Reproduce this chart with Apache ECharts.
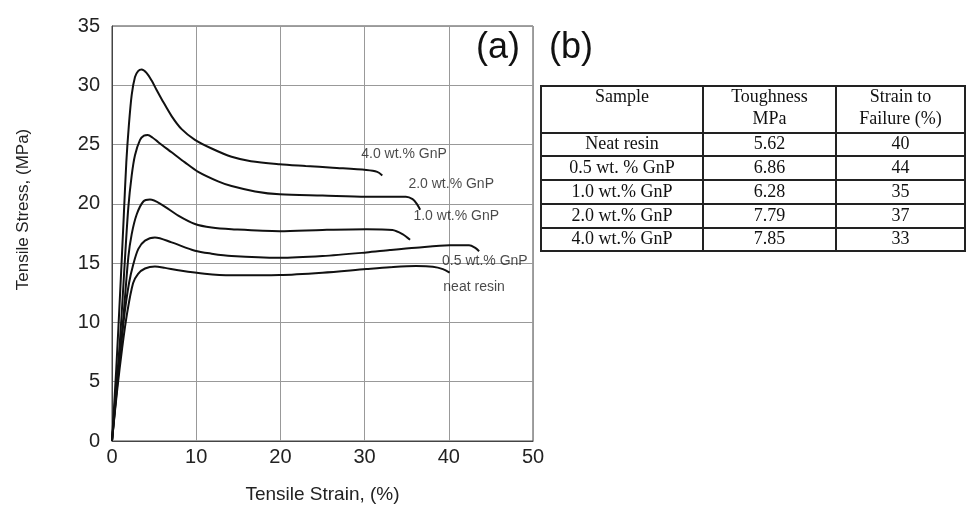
<!DOCTYPE html>
<html>
<head>
<meta charset="utf-8">
<script src="https://cdn.jsdelivr.net/npm/echarts@6/dist/echarts.min.js"></script>
<style>
html,body{margin:0;padding:0;background:#fff;}
#c{width:966px;height:509px;}
</style>
</head>
<body>
<div id="c"></div>
<script>
// ---- data (strain %, stress MPa) ----
const neatResin = [[0,0],[0.6,4.2],[1.2,7.8],[1.8,10.8],[2.5,13.3],[3.1,14.1],[3.92,14.55],[5.1,14.72],[6.3,14.6],[7.87,14.4],[11.0,14.1],[14.2,13.97],[19.9,14.0],[25,14.2],[30.2,14.5],[33,14.65],[36.1,14.75],[38.1,14.7],[39.3,14.5],[40.1,14.2]];
const gnp05 = [[0,0],[0.5,3.8],[1.0,7.5],[1.5,10.8],[2.02,13.3],[2.53,14.9],[3.13,16.2],[3.92,16.9],[5.1,17.17],[7.08,16.75],[9.85,16.05],[11.83,15.8],[14.2,15.6],[19.9,15.45],[25,15.6],[30.2,15.9],[33,16.1],[36.1,16.3],[40.1,16.5],[42.4,16.5],[43.1,16.3],[43.6,16.0]];
const gnp10 = [[0,0],[0.6,4.8],[1.3,10],[1.94,15.5],[2.34,17.45],[2.93,19.1],[3.72,20.2],[4.51,20.36],[5.9,19.94],[7.87,19.0],[9.85,18.3],[11.83,18.0],[14.2,17.86],[19.9,17.7],[25,17.8],[30.2,17.86],[33.3,17.8],[34.5,17.45],[35.4,16.97]];
const gnp20 = [[0,0],[0.5,4.5],[0.9,8],[1.3,12.5],[1.55,15.5],[1.94,19.7],[2.34,22.4],[2.73,24.1],[3.33,25.4],[3.8,25.75],[4.24,25.8],[4.8,25.6],[5.5,25.2],[7.08,24.35],[8.66,23.5],[10.24,22.7],[12.6,21.9],[14.2,21.5],[17,21.05],[19.9,20.8],[25,20.7],[30.2,20.6],[34.9,20.6],[35.7,20.4],[36.2,20.0],[36.6,19.5]];
const gnp40 = [[0,0],[0.5,6],[1.0,13],[1.4,19],[1.7,23.5],[2.0,26.6],[2.34,29.2],[2.73,30.7],[3.1,31.2],[3.52,31.33],[4.1,31.05],[4.71,30.4],[5.3,29.6],[5.9,28.83],[7.08,27.4],[8.27,26.3],[9.85,25.4],[11.83,24.67],[14.2,23.97],[16.5,23.6],[19.9,23.35],[23,23.2],[26.2,23.05],[30.2,22.86],[31.5,22.7],[32.1,22.4]];

const curveNames = ['neat resin','0.5 wt.% GnP','1.0 wt.% GnP','2.0 wt.% GnP','4.0 wt.% GnP'];
const curveLabelAnchors = [[39.35,12.98],[39.2,15.17],[35.8,18.94],[35.2,21.67],[29.6,24.17]];

const xTicks = [0,10,20,30,40,50];
const yTicks = [0,5,10,15,20,25,30,35];

// table (b)
const tableHeaders = [['Sample'],['Toughness','MPa'],['Strain to','Failure (%)']];
const samples = ['Neat resin','0.5 wt. % GnP','1.0 wt.% GnP','2.0 wt.% GnP','4.0 wt.% GnP'];
const toughness = ['5.62','6.86','6.28','7.79','7.85'];
const strainToFailure = ['40','44','35','37','33'];

// ---- chart ----
const chart = echarts.init(document.getElementById('c'));
const curves = [neatResin,gnp05,gnp10,gnp20,gnp40];
const sansFont = 'Liberation Sans, Arial, sans-serif';
const serifFont = 'Liberation Serif, Times New Roman, serif';

const series = curves.map((d,i)=>({
  name: curveNames[i], type:'line', data:d, smooth:0.3, showSymbol:false, symbol:'none',
  lineStyle:{color:'#111',width:2}, silent:true, z:3
}));
series.push({
  type:'scatter', symbolSize:0, silent:true, z:4,
  data: curveLabelAnchors.map((p,i)=>({value:p, name:curveNames[i]})),
  label:{show:true, position:'right', distance:0, formatter:p=>p.name,
         fontFamily:sansFont, fontSize:14, color:'#1a1a1a'}
});

// table graphics
const colX = [541,703,836,965];
const rowY = [86,133,156,180,204,228,251];
const g = [];
g.push({type:'rect', shape:{x:colX[0],y:rowY[0],width:colX[3]-colX[0],height:rowY[6]-rowY[0]},
        style:{fill:'none',stroke:'#222',lineWidth:2}});
for (let i=1;i<rowY.length-1;i++) g.push({type:'line',shape:{x1:colX[0],y1:rowY[i],x2:colX[3],y2:rowY[i]},style:{stroke:'#222',lineWidth:2}});
for (let j=1;j<colX.length-1;j++) g.push({type:'line',shape:{x1:colX[j],y1:rowY[0],x2:colX[j],y2:rowY[6]},style:{stroke:'#222',lineWidth:2}});
const colC = [0,1,2].map(j=>(colX[j]+colX[j+1])/2);
tableHeaders.forEach((lines,j)=>{
  lines.forEach((t,k)=>{
    g.push({type:'text', style:{text:t, x:colC[j], y:97+k*22, align:'center', verticalAlign:'middle',
      font:'18px '+serifFont, fill:'#111'}});
  });
});
const cols = [samples,toughness,strainToFailure];
cols.forEach((arr,j)=>{
  arr.forEach((t,r)=>{
    g.push({type:'text', style:{text:t, x:colC[j], y:(rowY[r+1]+rowY[r+2])/2, align:'center', verticalAlign:'middle',
      font:'18px '+serifFont, fill:'#111'}});
  });
});
g.push({type:'text', style:{text:'(a)', x:498, y:48, align:'center', verticalAlign:'middle', font:'36px '+sansFont, fill:'#111'}});
g.push({type:'text', style:{text:'(b)', x:571, y:48, align:'center', verticalAlign:'middle', font:'36px '+sansFont, fill:'#111'}});

chart.setOption({
  animation:false,
  backgroundColor:'#fff',
  grid:{left:112, top:26, width:421, height:420, show:true, borderColor:'#444', borderWidth:1},
  xAxis:{type:'value', min:xTicks[0], max:xTicks[xTicks.length-1], interval:10,
    name:'Tensile Strain, (%)', nameLocation:'middle', nameGap:44,
    nameTextStyle:{fontFamily:sansFont, fontSize:19, color:'#222'},
    axisLine:{show:true,lineStyle:{color:'#444'}}, axisTick:{show:false},
    axisLabel:{fontFamily:sansFont, fontSize:20, color:'#222', margin:6},
    splitLine:{show:true,lineStyle:{color:'#999',width:1}}},
  yAxis:{type:'value', min:yTicks[0], max:yTicks[yTicks.length-1], interval:5,
    name:'Tensile Stress, (MPa)', nameLocation:'middle', nameGap:80,
    nameTextStyle:{fontFamily:sansFont, fontSize:17, color:'#222', padding:[0,0,0,48]},
    axisLine:{show:true,lineStyle:{color:'#444'}}, axisTick:{show:false},
    axisLabel:{fontFamily:sansFont, fontSize:20, color:'#222', margin:12},
    splitLine:{show:true,lineStyle:{color:'#999',width:1}}},
  series: series,
  graphic: g
});
</script>
</body>
</html>
